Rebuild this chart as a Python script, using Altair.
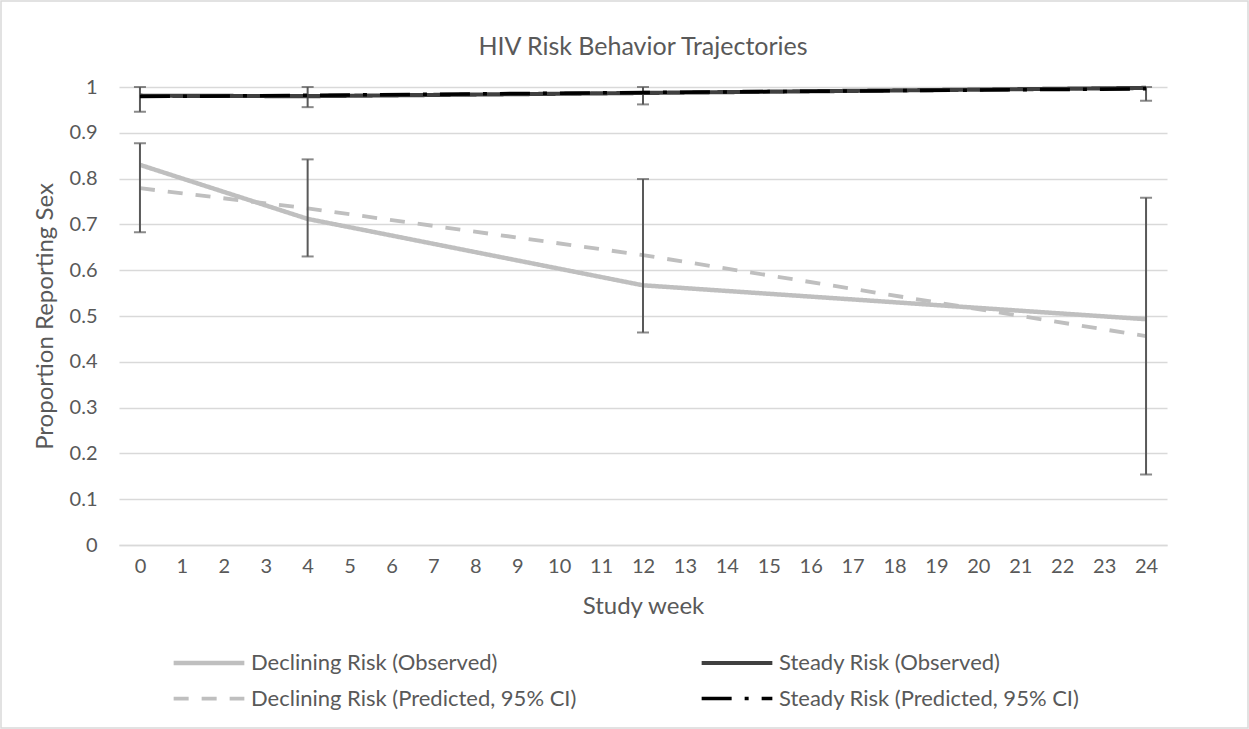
import altair as alt
import pandas as pd

# ---------------- data ----------------
weeks = [0, 4, 12, 24]
declining_observed = [0.830, 0.712, 0.567, 0.493]
declining_predicted = [0.779, 0.735, 0.633, 0.456]
steady_observed = [0.981, 0.980, 0.987, 0.998]
steady_predicted = [0.979, 0.982, 0.988, 0.996]

declining_ci_low = [0.683, 0.630, 0.464, 0.154]
declining_ci_high = [0.877, 0.842, 0.799, 0.758]
steady_ci_low = [0.946, 0.956, 0.962, 0.970]
steady_ci_high = [1.000, 1.000, 1.000, 1.000]

series_names = [
    "Declining Risk (Observed)",
    "Steady Risk (Observed)",
    "Declining Risk (Predicted, 95% CI)",
    "Steady Risk (Predicted, 95% CI)",
]
x_ticks = list(range(0, 25))
y_ticks = [0, 0.1, 0.2, 0.3, 0.4, 0.5, 0.6, 0.7, 0.8, 0.9, 1]

# ---------------- styles ----------------
series_colors = ["#bfbfbf", "#404040", "#bfbfbf", "#000000"]
series_dashes = [[1, 0], [1, 0], [15, 13], [30, 13, 4, 13]]
series_widths = [4.5, 3.5, 4.5, 4.5]
FONT = "Lato"
TEXT = "#595959"
GRID = "#d9d9d9"

rows = []
for name, vals in zip(series_names,
                      [declining_observed, steady_observed,
                       declining_predicted, steady_predicted]):
    for w, v in zip(weeks, vals):
        rows.append({"week": w, "value": v, "series": name})
lines_df = pd.DataFrame(rows)

ci_df = pd.DataFrame({
    "week": weeks + weeks,
    "lo": declining_ci_low + steady_ci_low,
    "hi": declining_ci_high + steady_ci_high,
})
caps_df = pd.DataFrame({
    "week": weeks * 4,
    "value": declining_ci_low + declining_ci_high + steady_ci_low + steady_ci_high,
})

W, H = 1048, 458

x_enc = alt.X(
    "week:Q",
    scale=alt.Scale(domain=[-0.5, 24.5], nice=False, zero=False),
    axis=alt.Axis(
        values=x_ticks, format="d", grid=False, ticks=False, tickSize=0,
        domain=True, domainColor=GRID, domainWidth=1.3,
        labelFont=FONT, labelFontSize=20, labelColor=TEXT,
        labelPadding=21, labelBaseline="middle", labelFlush=False,
        title="Study week", titleFont=FONT, titleFontSize=24,
        titleFontWeight="normal", titleColor=TEXT,
        titleX=W / 2, titleY=61, titleBaseline="middle", titleAlign="center",
    ),
)
y_enc = alt.Y(
    "value:Q",
    scale=alt.Scale(domain=[0, 1], nice=False),
    axis=alt.Axis(
        values=y_ticks, format="~g", grid=True, gridColor=GRID, gridWidth=1.3,
        ticks=False, tickSize=0, domain=False,
        labelFont=FONT, labelFontSize=20, labelColor=TEXT, labelPadding=22,
        labelFlush=False,
        title="Proportion Reporting Sex", titleFont=FONT, titleFontSize=24,
        titleFontWeight="normal", titleColor=TEXT, titleAngle=-90,
        titleX=-74, titleY=H / 2, titleBaseline="middle", titleAlign="center",
    ),
)

# wide, flat legend symbol: a custom horizontal path scaled by sqrt(size)/2
legend = alt.Legend(
    title=None, orient="none", legendX=79, legendY=565, columns=2,
    direction="horizontal", symbolType="M-5,0H5", symbolSize=200,
    labelFont=FONT, labelFontSize=22, labelColor=TEXT, labelOffset=31,
    labelLimit=500, columnPadding=116, rowPadding=13.6, padding=0,
)
color_enc = alt.Color("series:N",
                      scale=alt.Scale(domain=series_names, range=series_colors),
                      legend=legend)
dash_enc = alt.StrokeDash("series:N",
                          scale=alt.Scale(domain=series_names, range=series_dashes),
                          legend=legend)
width_enc = alt.StrokeWidth("series:N",
                            scale=alt.Scale(domain=series_names, range=series_widths),
                            legend=legend)


def line_layer(names):
    return alt.Chart(lines_df).transform_filter(
        alt.FieldOneOfPredicate(field="series", oneOf=names)
    ).mark_line(strokeCap="butt").encode(
        x=x_enc, y=y_enc, color=color_enc, strokeDash=dash_enc,
        strokeWidth=width_enc, detail="series:N",
    )


decl_obs = line_layer([series_names[0]])
decl_pred = line_layer([series_names[2]])
steady_obs = line_layer([series_names[1]])
steady_pred = line_layer([series_names[3]])

err_rules = alt.Chart(ci_df).mark_rule(color="#595959", strokeWidth=2).encode(
    x=alt.X("week:Q"), y=alt.Y("lo:Q"), y2="hi:Q"
)
err_caps = alt.Chart(caps_df).mark_tick(
    orient="horizontal", color="#595959", size=12, thickness=2
).encode(x=alt.X("week:Q"), y=alt.Y("value:Q"))

frame = alt.Chart(pd.DataFrame({"k": [0]})).mark_rect(
    fillOpacity=0, stroke=GRID, strokeWidth=1.5
).encode(
    x=alt.value(-118), x2=alt.value(1249 - 119 - 1),
    y=alt.value(-86), y2=alt.value(729 - 87 - 1),
)

chart = alt.layer(
    frame, decl_obs, decl_pred, err_rules, err_caps, steady_obs, steady_pred
).properties(
    width=W, height=H,
    title=alt.TitleParams(
        "HIV Risk Behavior Trajectories", font=FONT, fontSize=25,
        fontWeight="normal", color=TEXT, anchor="middle", offset=0, dy=72,
        baseline="middle", frame="group",
    ),
    autosize=alt.AutoSizeParams(type="none"),
    padding={"left": 119, "top": 87, "right": 82, "bottom": 184},
    background="white",
).configure_view(stroke=None)

chart.save("out.html", embed_options={"renderer": "svg", "actions": False})
